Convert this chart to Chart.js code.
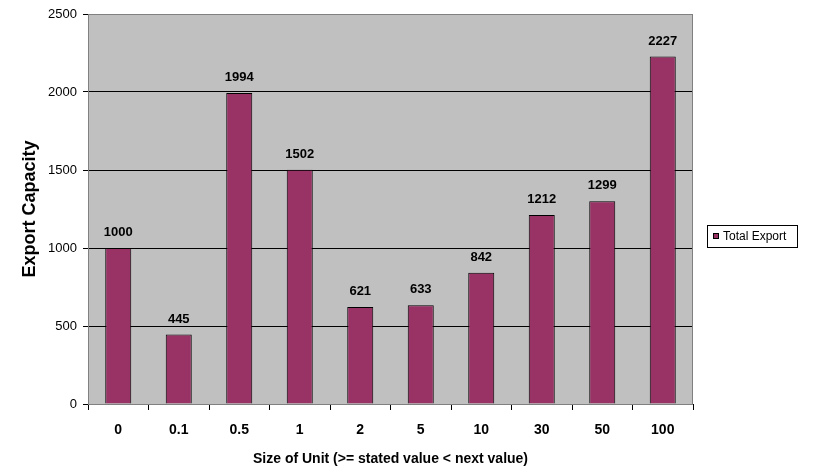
<!DOCTYPE html>
<html>
<head>
<meta charset="utf-8">
<script src="https://cdn.jsdelivr.net/npm/chart.js@4"></script>
<style>
  html, body { margin: 0; padding: 0; background: #fff; }
  #wrap { width: 813px; height: 474px; }
</style>
</head>
<body>
<div id="wrap"><canvas id="ch-export"></canvas></div>
<script>
const sizes = ['0', '0.1', '0.5', '1', '2', '5', '10', '30', '50', '100']
const totalExport = [1000, 445, 1994, 1502, 621, 633, 842, 1212, 1299, 2227]
const seriesName = 'Total Export'
const barColor = '#993366'
const font = "'Liberation Sans', Arial, sans-serif"

// grey plot area + border like the old spreadsheet look
const plotBg = {
  id: 'plotBg',
  beforeDraw(chart) {
    const { ctx, chartArea: a } = chart
    ctx.save()
    ctx.fillStyle = '#c0c0c0'
    ctx.fillRect(a.left, a.top, a.right - a.left, a.bottom - a.top)
    ctx.restore()
  },
  afterDraw(chart) {
    const { ctx, chartArea: a } = chart
    ctx.save()
    ctx.strokeStyle = '#808080'
    ctx.lineWidth = 1
    ctx.strokeRect(a.left + 0.5, a.top + 0.5, a.right - a.left - 1, a.bottom - a.top)
    ctx.restore()
  }
}

// value above each bar
const barValues = {
  id: 'barValues',
  afterDatasetsDraw(chart) {
    const { ctx } = chart
    const meta = chart.getDatasetMeta(0)
    ctx.save()
    ctx.font = `bold 13px ${font}`
    ctx.fillStyle = '#000'
    ctx.textAlign = 'center'
    ctx.textBaseline = 'alphabetic'
    meta.data.forEach((bar, i) => {
      ctx.fillText(String(chart.data.datasets[0].data[i]), bar.x, bar.y - 12)
    })
    ctx.restore()
  }
}

// boxed legend on the right
const sideLegend = {
  id: 'sideLegend',
  afterDraw(chart) {
    const { ctx } = chart
    const ds = chart.data.datasets[0]
    const x = 707, y = 225, w = 90, h = 22
    ctx.save()
    ctx.fillStyle = '#fff'
    ctx.fillRect(x, y, w, h)
    ctx.strokeStyle = '#000'
    ctx.lineWidth = 1
    ctx.strokeRect(x + 0.5, y + 0.5, w, h)
    ctx.fillStyle = ds.backgroundColor
    ctx.fillRect(x + 6, y + 8, 6, 6)
    ctx.strokeRect(x + 6.5, y + 8.5, 5, 5)
    ctx.fillStyle = '#000'
    ctx.font = `12px ${font}`
    ctx.textBaseline = 'middle'
    ctx.fillText(ds.label, x + 16, y + 11.5)
    ctx.restore()
  }
}

new Chart(document.getElementById('ch-export'), {
  type: 'bar',
  data: {
    labels: sizes,
    datasets: [{
      label: seriesName,
      data: totalExport,
      backgroundColor: barColor,
      borderColor: '#000',
      borderWidth: 1,
      barPercentage: 0.43,
      categoryPercentage: 1
    }]
  },
  options: {
    responsive: true,
    maintainAspectRatio: false,
    animation: false,
    layout: { padding: { left: 0, right: 120, top: 14, bottom: 0 } },
    plugins: { legend: { display: false }, tooltip: { enabled: false } },
    scales: {
      x: {
        afterFit(s) { s.height = 70 },
        grid: { offset: true, drawOnChartArea: false, drawTicks: true, tickLength: 6, color: '#000' },
        border: { color: '#000' },
        ticks: { color: '#000', font: { family: font, size: 14, weight: 'bold' }, padding: 12 },
        title: { display: true, text: 'Size of Unit (>= stated value < next value)', color: '#000', font: { family: font, size: 14, weight: 'bold' }, padding: { top: 10, bottom: 6 } }
      },
      y: {
        min: 0, max: 2500,
        afterFit(s) { s.width = 88 },
        grid: { color: '#000', tickLength: 5 },
        border: { color: '#000' },
        ticks: { stepSize: 500, color: '#000', font: { family: font, size: 13 }, padding: 6, callback: v => String(v) },
        title: { display: true, text: 'Export Capacity', color: '#000', font: { family: font, size: 18, weight: 'bold' }, padding: { top: 19 } }
      }
    }
  },
  plugins: [plotBg, barValues, sideLegend]
})
</script>
</body>
</html>
